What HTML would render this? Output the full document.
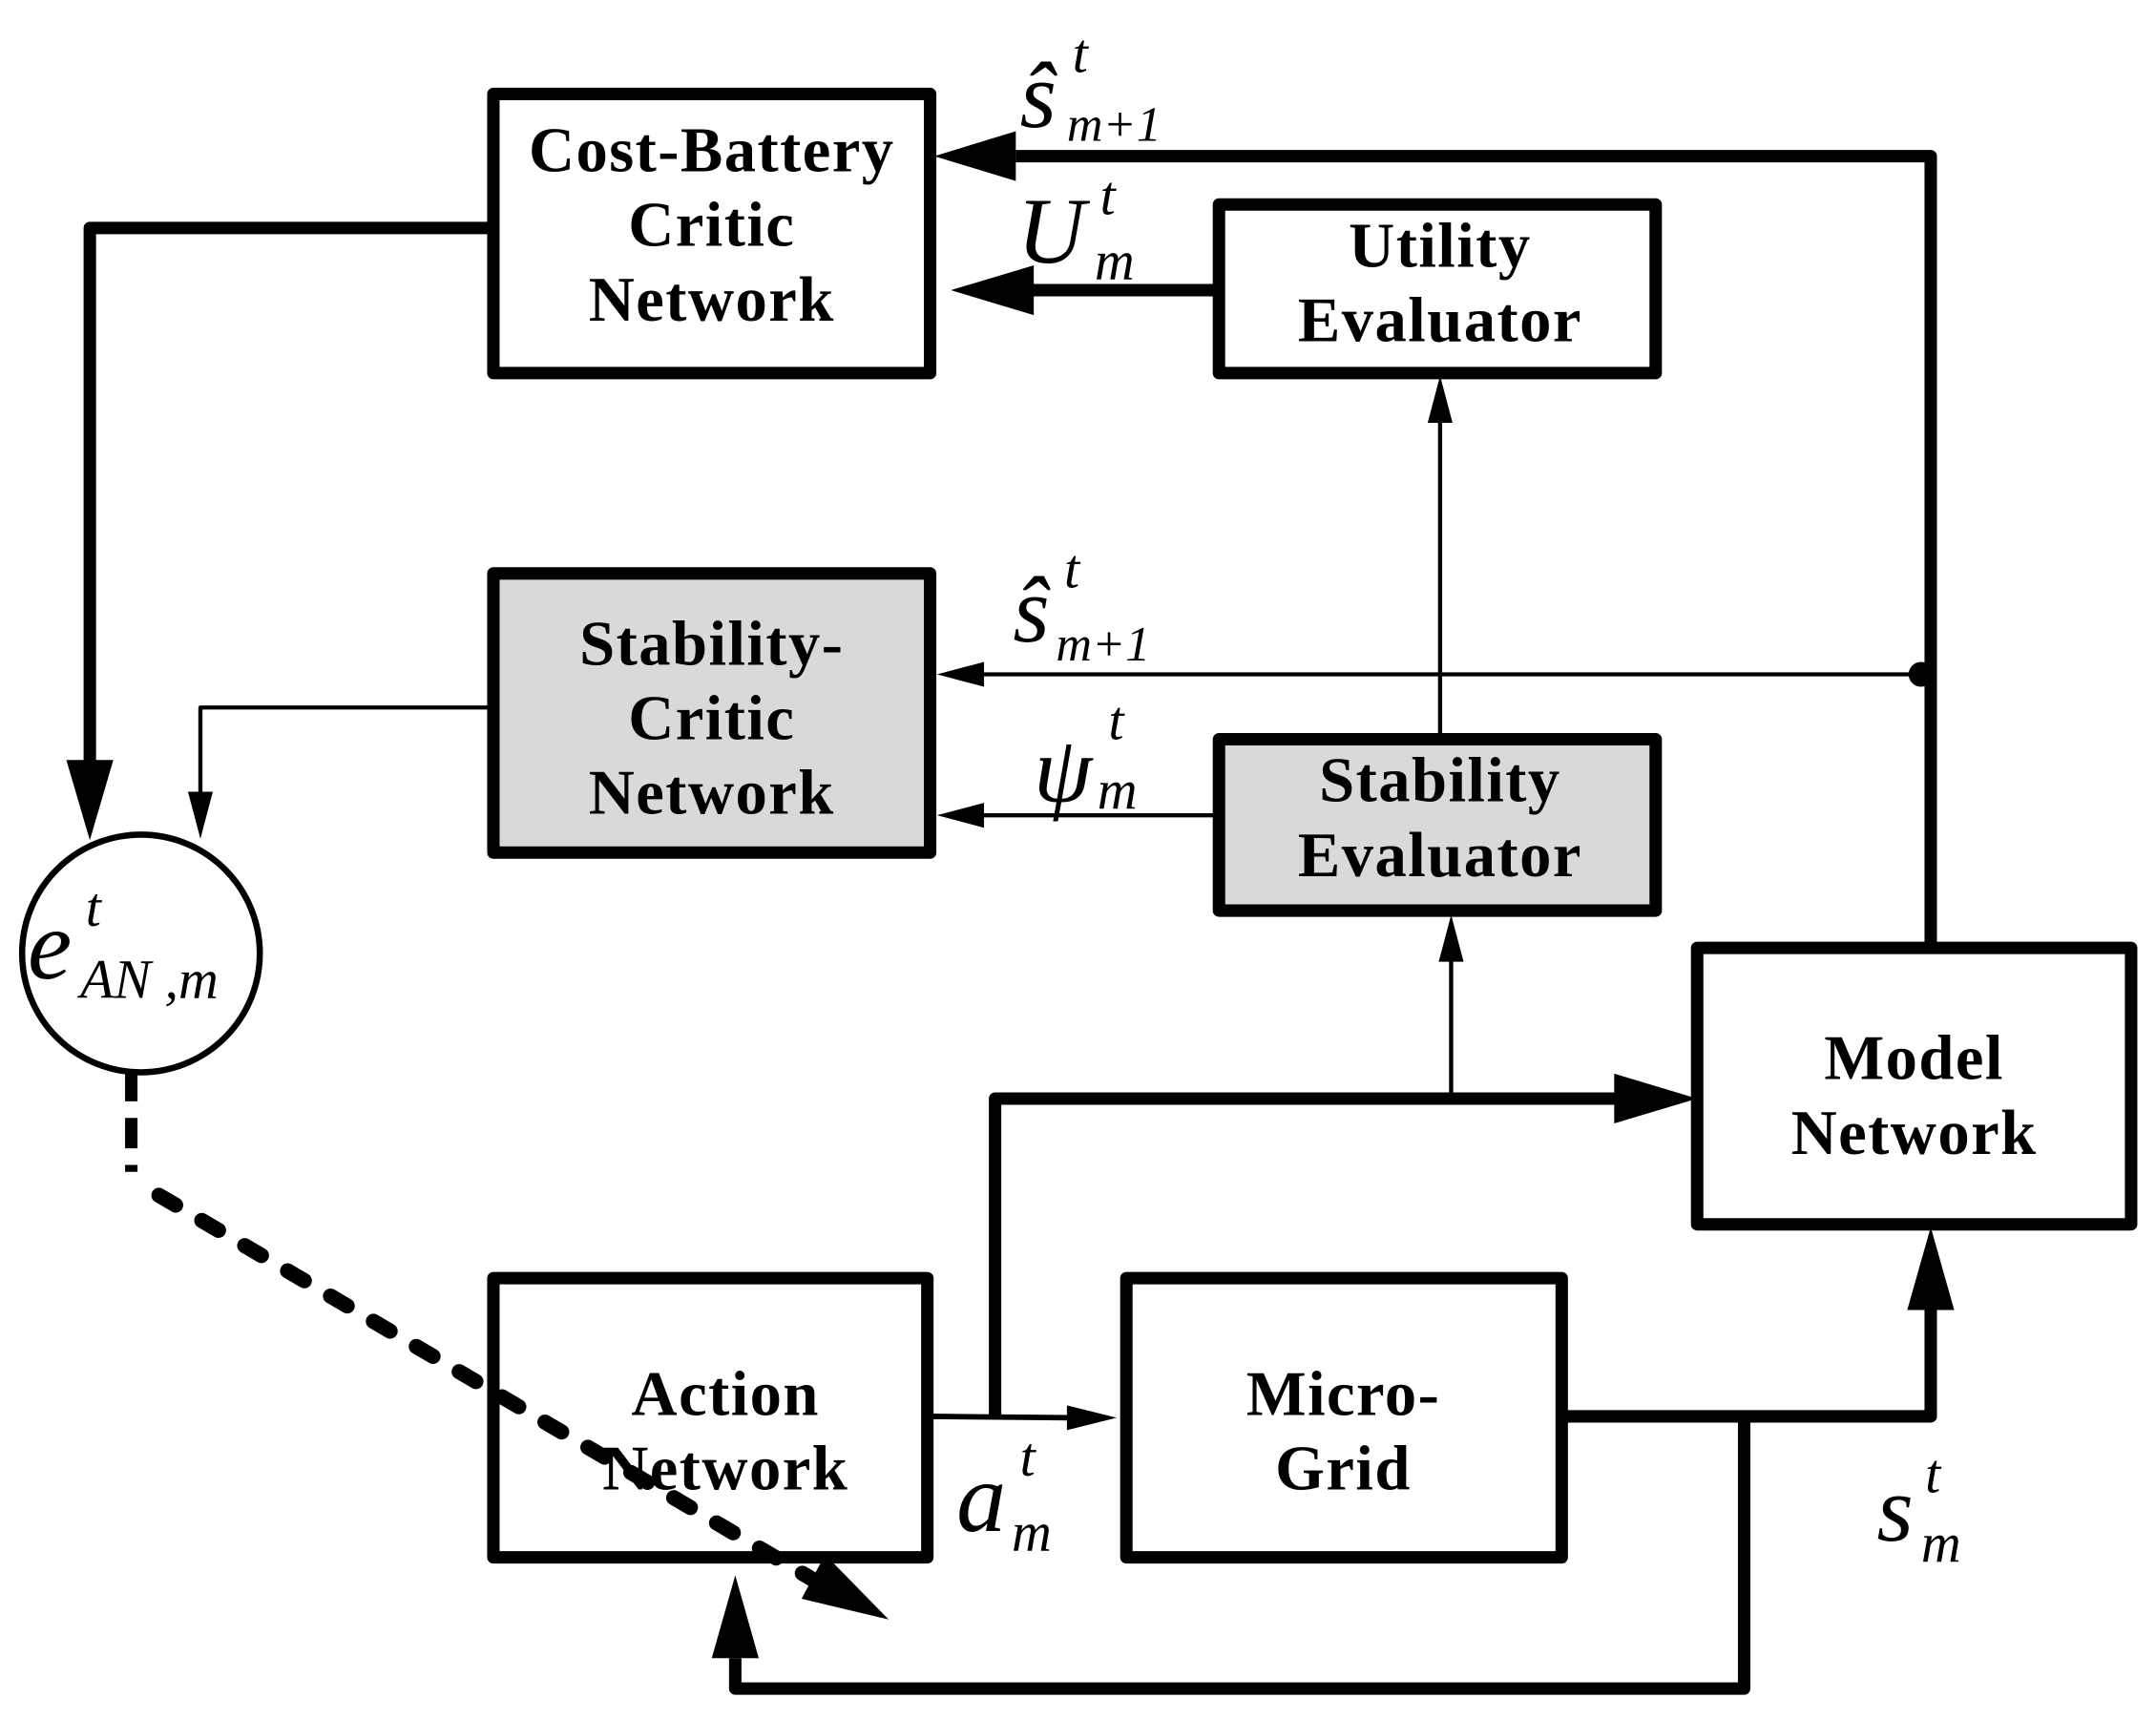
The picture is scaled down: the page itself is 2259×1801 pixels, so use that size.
<!DOCTYPE html>
<html><head><meta charset="utf-8"><style>
html,body{margin:0;padding:0;background:#fff;}
svg{display:block;}
.b{font-family:"Liberation Serif",serif;font-weight:bold;font-size:46px;letter-spacing:1px;text-anchor:middle;}
.m{font-family:"Liberation Serif",serif;font-style:italic;}
</style></head><body>
<svg width="2259" height="1801" viewBox="0 0 1560 1244" preserveAspectRatio="none" xmlns="http://www.w3.org/2000/svg">
<g fill="none" stroke="#000" stroke-linejoin="round">
 <rect x="357" y="68" width="316" height="202" stroke-width="9" fill="#fff"/>
 <rect x="882" y="148" width="316" height="122" stroke-width="9" fill="#fff"/>
 <rect x="357" y="415" width="316" height="202" stroke-width="9" fill="#d9d9d9"/>
 <rect x="882" y="535" width="316" height="124" stroke-width="9" fill="#d9d9d9"/>
 <rect x="1228" y="686" width="314" height="200" stroke-width="9" fill="#fff"/>
 <rect x="357" y="925" width="314" height="202" stroke-width="9" fill="#fff"/>
 <rect x="815" y="925" width="315" height="202" stroke-width="9" fill="#fff"/>
 <circle cx="102" cy="690" r="86" stroke-width="4.5" fill="#fff"/>
 <polyline points="1397,686 1397,113 735,113" stroke-width="9"/>
 <line x1="882" y1="210" x2="745" y2="210" stroke-width="9"/>
 <polyline points="357,165 65,165 65,555" stroke-width="9"/>
 <polyline points="720,1025 720,795 1170,795" stroke-width="9"/>
 <polyline points="1130,1025 1397,1025 1397,945" stroke-width="9"/>
 <polyline points="1262,1025 1262,1222 532,1222 532,1200" stroke-width="9"/>
 <line x1="1390" y1="488" x2="710" y2="488" stroke-width="3"/>
 <line x1="882" y1="590" x2="710" y2="590" stroke-width="3"/>
 <polyline points="357,512 145,512 145,575" stroke-width="3"/>
 <line x1="1042" y1="535" x2="1042" y2="305" stroke-width="3"/>
 <line x1="1050" y1="795" x2="1050" y2="695" stroke-width="3"/>
 <line x1="673" y1="1025" x2="775" y2="1026" stroke-width="4"/>
 <line x1="95" y1="775" x2="95" y2="848" stroke-width="9" stroke-dasharray="22,12"/>
 <line x1="115" y1="865" x2="600" y2="1150" stroke-width="11" stroke-linecap="round" stroke-dasharray="14,22"/>
</g>
<g fill="#000">
 <polygon points="676,113 735,95 735,131"/>
 <polygon points="688,210 748,192 748,228"/>
 <polygon points="65,608 48,550 82,550"/>
 <polygon points="1228,795 1168,777 1168,813"/>
 <polygon points="1397,888 1380,948 1414,948"/>
 <polygon points="532,1140 515,1200 549,1200"/>
 <polygon points="643,1172 580,1157 597,1125"/>
 <polygon points="678,488 712,479 712,497"/>
 <polygon points="678,590 712,581 712,599"/>
 <polygon points="145,607 136,573 154,573"/>
 <polygon points="1042,272 1033,306 1051,306"/>
 <polygon points="1050,662 1041,696 1059,696"/>
 <polygon points="808,1026 772,1017 772,1035"/>
 <circle cx="1390" cy="488" r="9"/>
</g>
<g class="b">
 <text x="515" y="124">Cost-Battery</text>
 <text x="515" y="178">Critic</text>
 <text x="515" y="232">Network</text>
 <text x="1042" y="193">Utility</text>
 <text x="1042" y="247">Evaluator</text>
 <text x="515" y="481">Stability-</text>
 <text x="515" y="535">Critic</text>
 <text x="515" y="589">Network</text>
 <text x="1042" y="580">Stability</text>
 <text x="1042" y="634">Evaluator</text>
 <text x="1385" y="781">Model</text>
 <text x="1385" y="835">Network</text>
 <text x="525" y="1024">Action</text>
 <text x="525" y="1078">Network</text>
 <text x="972" y="1024">Micro-</text>
 <text x="972" y="1078">Grid</text>
</g>
<g class="m">
 <text x="738" y="92" font-size="68">ŝ</text><text x="776" y="52" font-size="40">t</text><text x="772" y="102" font-size="36">m+1</text>
 <text x="736" y="190" font-size="68">U</text><text x="796" y="155" font-size="40">t</text><text x="792" y="202" font-size="40">m</text>
 <text x="733" y="464" font-size="68">ŝ</text><text x="770" y="425" font-size="40">t</text><text x="764" y="478" font-size="36">m+1</text>
 <text x="748" y="580" font-size="68">ψ</text><text x="802" y="535" font-size="40">t</text><text x="794" y="585" font-size="40">m</text>
 <text x="20" y="708" font-size="72">e</text><text x="62" y="670" font-size="40">t</text><text x="58" y="722" font-size="40">AN ,m</text>
 <text x="692" y="1108" font-size="72">a</text><text x="738" y="1068" font-size="40">t</text><text x="732" y="1122" font-size="40">m</text>
 <text x="1358" y="1115" font-size="68">s</text><text x="1393" y="1080" font-size="40">t</text><text x="1390" y="1130" font-size="40">m</text>
</g>
</svg>
</body></html>
